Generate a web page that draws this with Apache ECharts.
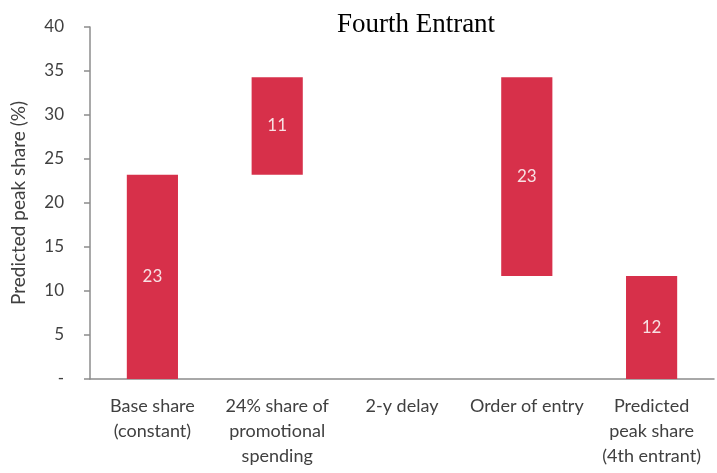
<!DOCTYPE html>
<html>
<head>
<meta charset="utf-8">
<script src="https://cdn.jsdelivr.net/npm/echarts@6/dist/echarts.min.js"></script>
<style>html,body{margin:0;padding:0;background:#fff}#c{width:717px;height:473px}</style>
</head>
<body>
<div id="c"></div>
<script>
var categories = ['Base share\n(constant)', '24% share of\npromotional\nspending', '2-y delay', 'Order of entry', 'Predicted\npeak share\n(4th entrant)'];
var effects = [23.2, 11.1, 0, -22.6];
var yTicks = ['-', '5', '10', '15', '20', '25', '30', '35', '40'];

var bases = [], heights = [], cum = 0;
effects.forEach(function (d) {
  var next = cum + d;
  bases.push(Math.min(cum, next));
  heights.push(Math.abs(d));
  cum = next;
});
bases.push(0);
heights.push(cum);

var chart = echarts.init(document.getElementById('c'));
var font = 'Lato, "Open Sans", sans-serif';
chart.setOption({
  animation: false,
  title: {
    text: 'Fourth Entrant', left: 411, top: 6, textAlign: 'center',
    textStyle: { fontFamily: '"Liberation Serif", "Times New Roman", serif', fontWeight: 'normal', fontSize: 27, color: '#000' }
  },
  grid: { left: 90, right: 3, top: 27, bottom: 94 },
  xAxis: {
    type: 'category', data: categories,
    axisLine: { lineStyle: { color: '#8c8c8c', width: 1.5 } },
    axisTick: { length: 6, lineStyle: { color: '#8c8c8c', width: 1.5 } },
    axisLabel: { interval: 0, fontFamily: font, fontSize: 18, color: '#404040', lineHeight: 25, margin: 15 }
  },
  yAxis: {
    type: 'value', min: 0, max: 40, interval: 5,
    name: 'Predicted peak share (%)', nameLocation: 'middle', nameGap: 62, nameRotate: 90,
    nameTextStyle: { fontFamily: font, fontSize: 19, color: '#404040' },
    axisLine: { show: true, lineStyle: { color: '#8c8c8c', width: 1.5 } },
    axisTick: { show: true, length: 6, lineStyle: { color: '#8c8c8c', width: 1.5 } },
    splitLine: { show: false },
    axisLabel: {
      fontFamily: font, fontSize: 17, color: '#404040', margin: 26,
      formatter: function (v) { return yTicks[Math.round(v / 5)]; }
    }
  },
  series: [
    { type: 'bar', stack: 'w', data: bases, itemStyle: { color: 'transparent' }, barWidth: '41%', silent: true },
    {
      type: 'bar', stack: 'w', data: heights, barWidth: '41%',
      itemStyle: { color: '#D7304A' },
      label: {
        show: true, position: 'inside', fontFamily: font, fontSize: 17, color: '#f8e0e3',
        formatter: function (p) { return p.value ? String(Math.round(p.value)) : ''; }
      }
    }
  ]
});
</script>
</body>
</html>
